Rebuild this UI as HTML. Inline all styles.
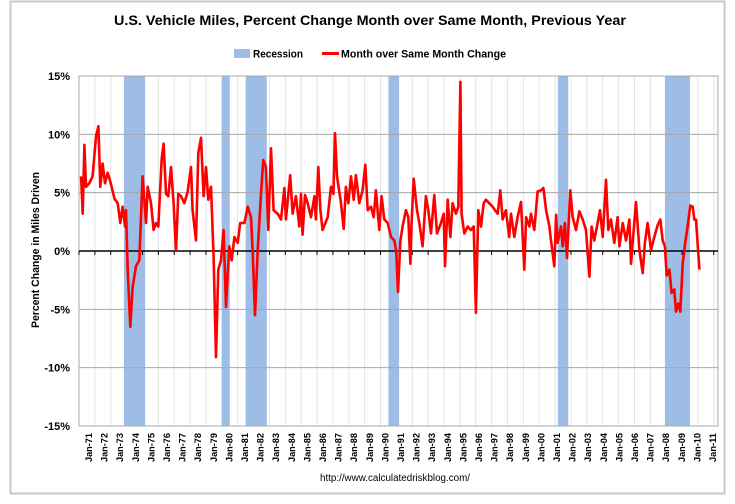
<!DOCTYPE html>
<html><head><meta charset="utf-8"><style>
html,body{margin:0;padding:0;background:#fff;width:735px;height:504px;overflow:hidden}
svg text{font-family:"Liberation Sans",sans-serif;font-weight:bold;fill:#000}
</style></head><body>
<svg id="chart" width="735" height="504" viewBox="0 0 735 504" xmlns="http://www.w3.org/2000/svg">
<rect x="10.5" y="1.5" width="714" height="492" fill="#fff" stroke="#c8c8c8" stroke-width="2"/>
<text x="370" y="25" text-anchor="middle" font-size="14" textLength="512" lengthAdjust="spacingAndGlyphs">U.S. Vehicle Miles,  Percent Change Month over Same Month, Previous Year</text>
<g>
<rect x="234" y="49" width="16" height="9" fill="#9dbde6"/>
<text x="253" y="57.5" font-size="11" textLength="50" lengthAdjust="spacingAndGlyphs">Recession</text>
<line x1="322" y1="53.5" x2="339" y2="53.5" stroke="#f00" stroke-width="3"/>
<text x="341" y="57.5" font-size="11" textLength="165" lengthAdjust="spacingAndGlyphs">Month over Same Month Change</text>
</g>
<g id="plot"></g>
<text transform="translate(39,250) rotate(-90)" text-anchor="middle" font-size="11" textLength="156" lengthAdjust="spacingAndGlyphs">Percent Change in Miles Driven</text>
<text x="395" y="481" text-anchor="middle" font-size="10" style="font-weight:normal" textLength="150" lengthAdjust="spacingAndGlyphs">http://www.calculatedriskblog.com/</text>
</svg>
<script>
// data
const yTicks = [15,10,5,0,-5,-10,-15];
const yearLabels = ['71','72','73','74','75','76','77','78','79','80','81','82','83','84','85','86','87','88','89','90','91','92','93','94','95','96','97','98','99','00','01','02','03','04','05','06','07','08','09','10','11'];
const recessionStarts = [1973.83,1980.0,1981.5,1990.5,2001.17,2007.92];
const recessionEnds   = [1975.17,1980.5,1982.83,1991.17,2001.83,2009.5];
const dates = [1971.13,1971.23,1971.34,1971.44,1971.65,1971.86,1972.07,1972.22,1972.34,1972.49,1972.64,1972.81,1973.02,1973.23,1973.44,1973.60,1973.75,1973.90,1973.96,1974.07,1974.23,1974.38,1974.59,1974.80,1975.01,1975.22,1975.33,1975.54,1975.70,1975.85,1976.00,1976.21,1976.33,1976.48,1976.63,1976.80,1976.96,1977.11,1977.26,1977.43,1977.64,1977.85,1978.06,1978.16,1978.37,1978.52,1978.69,1978.85,1979.00,1979.15,1979.32,1979.48,1979.63,1979.78,1979.95,1980.11,1980.26,1980.47,1980.62,1980.79,1981.00,1981.16,1981.42,1981.63,1981.84,1981.94,1982.09,1982.26,1982.47,1982.61,1982.78,1982.93,1983.10,1983.26,1983.52,1983.73,1983.94,1984.04,1984.31,
1984.46,1984.67,1984.88,1984.99,1985.09,1985.24,1985.41,1985.62,1985.83,1985.93,1986.08,1986.21,1986.35,1986.67,1986.88,1987.03,1987.13,1987.26,1987.51,1987.68,1987.82,1987.97,1988.14,1988.31,1988.45,1988.66,1988.87,1989.04,1989.19,1989.40,1989.57,1989.71,1989.92,1990.07,1990.24,1990.45,1990.66,1990.87,1990.99,1991.10,1991.25,1991.39,1991.60,1991.75,1991.88,1991.96,1992.09,1992.30,1992.44,1992.65,1992.86,1993.01,1993.18,1993.39,1993.56,1993.81,1993.98,1994.06,1994.23,1994.40,1994.54,1994.75,1994.90,1995.03,1995.11,1995.28,1995.49,1995.70,1995.87,1996.01,1996.16,1996.33,1996.50,1996.64,1996.85,1997.06,1997.21,1997.38,1997.55,1997.69,1997.90,1998.11,
1998.22,1998.43,1998.64,1998.85,1999.06,1999.17,1999.38,1999.48,1999.69,1999.90,2000.11,2000.26,2000.43,2000.64,2000.74,2000.95,2001.06,2001.16,2001.37,2001.48,2001.62,2001.75,2001.96,2002.11,2002.32,2002.53,2002.74,2002.95,2003.16,2003.30,2003.47,2003.68,2003.83,2004.00,2004.21,2004.35,2004.52,2004.73,2004.94,2005.05,2005.26,2005.47,2005.68,2005.78,2005.95,2006.10,2006.31,2006.52,2006.66,2006.83,2007.04,2007.25,2007.46,2007.63,2007.78,2007.92,2008.03,2008.20,2008.34,2008.51,2008.62,2008.76,2008.89,2009.04,2009.20,2009.35,2009.52,2009.67,2009.77,2009.88,2010.09];
const changes = [6.4,3.2,9.1,5.5,5.8,6.4,9.8,10.7,5.5,7.5,5.8,6.7,5.7,4.5,4.1,2.4,3.8,2.1,3.5,-1.6,-6.5,-3.1,-1.3,-0.8,6.4,2.4,5.5,4.1,1.8,2.4,2.1,7.9,9.2,4.9,4.7,7.2,4.1,0,4.9,4.7,4.1,5.1,7.2,3.5,0.9,8.4,9.7,4.7,7.2,4.4,5.5,-0.5,-9.1,-1.6,-0.8,1.8,-4.8,0.4,-0.8,1.2,0.7,2.4,2.4,3.8,2.9,0.1,-5.5,0.1,4.9,7.8,7.2,1.8,8.8,3.5,3.2,2.7,5.4,2.7,6.5,
3.2,4.7,2.1,4.9,1.4,4.8,4.1,2.9,4.7,2.7,7.2,3.5,1.8,2.9,5.5,4.9,10.1,6.4,4.1,1.9,5.5,4.1,6.4,4.4,6.5,4.1,5.2,7.4,3.5,3.8,2.9,5.2,1.8,4.7,2.7,2.4,1.2,0.9,0,-3.5,0.9,2.1,3.5,2.9,-1.1,2.4,6.2,3.5,2.4,0.4,4.7,3.5,1.5,4.8,1.5,2.4,3.2,-1.3,4.4,1.2,4.1,3.2,3.8,14.5,3.2,1.5,2.1,1.8,2.1,-5.3,3.5,2.1,4.1,4.4,4.1,3.8,3.5,3.2,5.2,2.7,3.5,1.2,
3.2,1.2,2.9,4.2,-1.6,2.9,2.1,3.2,1.8,5.1,5.2,5.4,3.5,2.1,0.9,-1.3,3.1,0.7,2.1,0.4,2.4,-0.6,5.2,2.9,1.8,3.4,2.7,1.8,-2.2,2.1,0.9,2.4,3.5,1.2,6.1,1.8,2.7,0.7,2.9,0.4,2.4,0.9,2.7,-1.1,1.8,4.2,0.1,-1.9,0.7,2.4,0.1,1.2,2.2,2.7,0.9,0.4,-2.1,-1.6,-3.6,-3.3,-5.2,-4.5,-5.2,-1.1,0.7,2.1,3.9,3.8,2.7,2.7,-1.6];

const NS='http://www.w3.org/2000/svg';
const plot=document.getElementById('plot');
const L=79,R=718,T=76,B=426;
function xScale(t){return L+(t-1971)*15.87;}
function labelX(i){return 92+i*15.6;}
function yScale(v){return T+(15-v)*(B-T)/30;}
function mk(tag,attrs){const e=document.createElementNS(NS,tag);for(const k in attrs)e.setAttribute(k,attrs[k]);plot.appendChild(e);return e;}

yearLabels.forEach((lab,i)=>{
  const x=xScale(1971+i);
  const g=mk('line',{x1:x,y1:T,x2:x,y2:B,stroke:'#e4e4e4','stroke-width':1});
  
  
});
recessionStarts.forEach((s,i)=>{
  const r=mk('rect',{x:xScale(s),y:T,width:xScale(recessionEnds[i])-xScale(s),height:B-T,fill:'#9dbde6'});
  
  
});
yTicks.forEach(v=>{
  const y=yScale(v);
  if(v!==0){const g=mk('line',{x1:L,y1:y,x2:R,y2:y,stroke:'#a8a8a8','stroke-width':1});
  
  }
  const t=mk('text',{x:70,y:y+4,'text-anchor':'end','font-size':11});
  t.textContent=v+'%';
  
  
});
const pb=mk('rect',{x:L,y:T,width:R-L,height:B-T,fill:'none',stroke:'#a8a8a8','stroke-width':1});


const z=mk('line',{x1:L,y1:yScale(0),x2:R,y2:yScale(0),stroke:'#000','stroke-width':1.5});


yearLabels.forEach((lab,i)=>{
  const x=xScale(1971+i);
  const tk=mk('line',{x1:x,y1:yScale(0),x2:x,y2:yScale(0)+4,stroke:'#000','stroke-width':1});
  
  
  const t=mk('text',{transform:`translate(${labelX(i)},462) rotate(-90)`,'font-size':9,textLength:29,lengthAdjust:'spacingAndGlyphs'});
  t.textContent='Jan-'+lab;
  
  
});
const pts=dates.map((d,i)=>xScale(d).toFixed(1)+','+yScale(changes[i]).toFixed(1)).join(' ');
const line=mk('polyline',{points:pts,fill:'none',stroke:'#f00','stroke-width':2.6,'stroke-linejoin':'round'});


</script>
</body></html>
